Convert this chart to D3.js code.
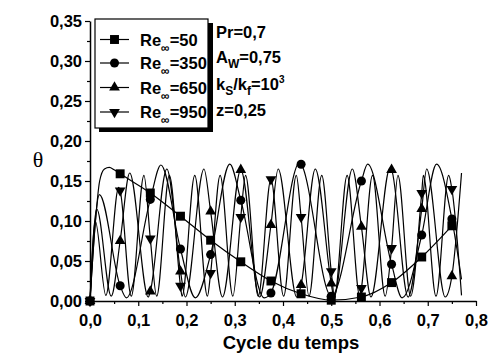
<!DOCTYPE html>
<html>
<head>
<meta charset="utf-8">
<script src="https://cdn.jsdelivr.net/npm/d3@7/dist/d3.min.js"></script>
<style>
  body { margin: 0; background: #fff; }
  svg text { font-family: "Liberation Sans", Arial, sans-serif; font-weight: bold; fill: #000; }
</style>
</head>
<body>
<div id="chart"></div>
<script>
// marker sampling times (cycle fraction)
const markerTimes = [0, 0.0625, 0.125, 0.1875, 0.25, 0.3125, 0.375, 0.4375, 0.5, 0.5625, 0.625, 0.6875, 0.75];

// theta read at the markers
const re50Marks  = [0, 0.159, 0.135, 0.106, 0.076, 0.049, 0.025, 0.009, 0.001, 0.005, 0.023, 0.055, 0.094];
const re350Marks = [0, 0.019, 0.127, 0.065, 0.058, 0.126, 0.010, 0.171, 0.006, 0.150, 0.046, 0.0825, 0.1025];
const re650Marks = [0, 0.075, 0.012, 0.037, 0.112, 0.164, 0.095, 0.020, 0.022, 0.093, 0.164, 0.115, 0.031];
const re950Marks = [0, 0.138, 0.078, 0.019, 0.035, 0.105, 0.152, 0.105, 0.037, 0.016, 0.066, 0.135, 0.140];

// extra curve points (peaks / troughs read between markers)
const re50Extra = [[0.01, 0.09], [0.02, 0.150], [0.03, 0.165], [0.04, 0.167], [0.05, 0.164]];
const re350Extra = [[0.0195, 0.133], [0.0755, 0.004], [0.147, 0.170], [0.2183, 0.004], [0.2897, 0.171],
  [0.3612, 0.004], [0.4345, 0.173], [0.5754, 0.171], [0.6469, 0.004], [0.7183, 0.171], [0.77, 0.027]];
const re650Extra = [[0.014, 0.115], [0.044, 0.006], [0.0823, 0.160], [0.1208, 0.005], [0.1592, 0.165],
  [0.1977, 0.005], [0.2362, 0.165], [0.2746, 0.005], [0.3515, 0.005], [0.39, 0.165], [0.4285, 0.005],
  [0.4669, 0.165], [0.5054, 0.005], [0.5438, 0.165], [0.5823, 0.005], [0.6218, 0.166], [0.6592, 0.005],
  [0.6977, 0.165], [0.7362, 0.005], [0.77, 0.160]];
const re950Extra = [[0.011, 0.100], [0.0329, 0.007], [0.0595, 0.142], [0.0855, 0.006], [0.1118, 0.157],
  [0.1382, 0.006], [0.1645, 0.157], [0.1908, 0.006], [0.2171, 0.157], [0.2434, 0.006], [0.2697, 0.157],
  [0.2961, 0.006], [0.3224, 0.157], [0.3487, 0.006], [0.4013, 0.006], [0.4276, 0.157], [0.4539, 0.006],
  [0.4803, 0.157], [0.5066, 0.006], [0.5329, 0.157], [0.5592, 0.006], [0.5855, 0.157], [0.6118, 0.006],
  [0.6382, 0.157], [0.6645, 0.006], [0.6908, 0.157], [0.7171, 0.006], [0.7434, 0.157], [0.77, 0.007]];

const reLabels = ["50", "350", "650", "950"];
const xTicks = [0, 0.1, 0.2, 0.3, 0.4, 0.5, 0.6, 0.7, 0.8];
const yTicks = [0, 0.05, 0.10, 0.15, 0.20, 0.25, 0.30, 0.35];

const width = 488, height = 354;
const x = d3.scaleLinear().domain([0, 0.8]).range([90, 476]);
const y = d3.scaleLinear().domain([0, 0.35]).range([301, 21]);

const svg = d3.select("#chart").append("svg")
  .attr("width", width).attr("height", height);

const commaX = d => d3.format(".1f")(d).replace(".", ",");
const commaY = d => d3.format(".2f")(d).replace(".", ",");

// minor ticks
const xMinor = d3.range(0.05, 0.8, 0.1);
const yMinor = d3.range(0.025, 0.35, 0.05);

svg.append("g").attr("transform", "translate(0,301)")
  .call(d3.axisBottom(x).tickValues(xMinor).tickSize(3).tickSizeOuter(0).tickFormat(""))
  .call(g => g.select(".domain").remove());
svg.append("g").attr("transform", "translate(90,0)")
  .call(d3.axisLeft(y).tickValues(yMinor).tickSize(3).tickSizeOuter(0).tickFormat(""))
  .call(g => g.select(".domain").remove());

svg.append("g").attr("transform", "translate(0,301)")
  .call(d3.axisBottom(x).tickValues(xTicks).tickSize(5).tickSizeOuter(0).tickPadding(8).tickFormat(commaX));
svg.append("g").attr("transform", "translate(90,0)")
  .call(d3.axisLeft(y).tickValues(yTicks).tickSize(5).tickSizeOuter(0).tickPadding(3).tickFormat(commaY));

svg.selectAll(".tick line").attr("stroke", "#000").attr("stroke-width", 1.2);
svg.selectAll(".domain").attr("stroke", "#000").attr("stroke-width", 1.5);
svg.selectAll(".tick text").style("font-size", "16.5px")
  .style("font-family", "'Liberation Sans', Arial, sans-serif").style("font-weight", "bold");

svg.append("text").attr("x", 291).attr("y", 349).attr("text-anchor", "middle")
  .style("font-size", "18.5px").text("Cycle du temps");
svg.append("text").attr("x", 38).attr("y", 167).attr("text-anchor", "middle")
  .style("font-family", "'Liberation Serif', 'Times New Roman', serif").style("font-weight", "normal")
  .style("font-size", "22px").text("θ");

// series
function build(extra, marks) {
  const pts = extra.concat(markerTimes.map((t, i) => [t, marks[i]]));
  pts.sort((a, b) => a[0] - b[0]);
  return pts;
}
const series = [
  { label: reLabels[0], sym: d3.symbolSquare, size: 80, rot: 0, pts: build(re50Extra, re50Marks), marks: re50Marks },
  { label: reLabels[1], sym: d3.symbolCircle, size: 64, rot: 0, pts: build(re350Extra, re350Marks), marks: re350Marks },
  { label: reLabels[2], sym: d3.symbolTriangle, size: 50, rot: 0, pts: build(re650Extra, re650Marks), marks: re650Marks },
  { label: reLabels[3], sym: d3.symbolTriangle, size: 50, rot: 180, pts: build(re950Extra, re950Marks), marks: re950Marks }
];

const line = d3.line().x(d => x(d[0])).y(d => y(d[1])).curve(d3.curveMonotoneX);

svg.append("g").selectAll("path").data(series).enter().append("path")
  .attr("d", d => line(d.pts))
  .attr("fill", "none").attr("stroke", "#000").attr("stroke-width", 1.2);

series.forEach(s => {
  svg.append("g").selectAll("path").data(s.marks).enter().append("path")
    .attr("d", d3.symbol().type(s.sym).size(s.size))
    .attr("transform", (d, i) => `translate(${x(markerTimes[i])},${y(d)}) rotate(${s.rot})`)
    .attr("fill", "#000");
});

// legend
const lg = svg.append("g");
lg.append("rect").attr("x", 95).attr("y", 19).attr("width", 113).attr("height", 109)
  .attr("fill", "#fff").attr("stroke", "#000").attr("stroke-width", 1.2);
const rowY = [39.5, 63, 87.5, 112];
series.forEach((s, i) => {
  lg.append("line").attr("x1", 100).attr("x2", 129).attr("y1", rowY[i]).attr("y2", rowY[i])
    .attr("stroke", "#000").attr("stroke-width", 1.2);
  lg.append("path").attr("d", d3.symbol().type(s.sym).size(s.size))
    .attr("transform", `translate(114.5,${rowY[i]}) rotate(${s.rot})`).attr("fill", "#000");
  const t = lg.append("text").attr("x", 140).attr("y", rowY[i] + 6).style("font-size", "16.5px");
  t.append("tspan").text("Re");
  t.append("tspan").attr("dy", 6).style("font-size", "12px").text("∞");
  t.append("tspan").attr("dy", -6).text("=" + s.label);
});
// shadow bars of the legend frame
lg.append("rect").attr("x", 208).attr("y", 23).attr("width", 5).attr("height", 109).attr("fill", "#000");
lg.append("rect").attr("x", 99).attr("y", 128).attr("width", 114).attr("height", 4).attr("fill", "#000");

// parameters
const pg = svg.append("g");
pg.append("text").attr("x", 216).attr("y", 38).style("font-size", "16.5px").text("Pr=0,7");
const ta = pg.append("text").attr("x", 216).attr("y", 63).style("font-size", "16.5px");
ta.append("tspan").text("A");
ta.append("tspan").attr("dy", 5).style("font-size", "12px").text("W");
ta.append("tspan").attr("dy", -5).text("=0,75");
const tk = pg.append("text").attr("x", 216).attr("y", 90).style("font-size", "16.5px");
tk.append("tspan").text("k");
tk.append("tspan").attr("dy", 5).style("font-size", "12px").text("S");
tk.append("tspan").attr("dy", -5).text("/k");
tk.append("tspan").attr("dy", 5).style("font-size", "12px").text("f");
tk.append("tspan").attr("dy", -5).text("=10");
tk.append("tspan").attr("dy", -7).style("font-size", "10px").text("3");
pg.append("text").attr("x", 216).attr("y", 116).style("font-size", "16.5px").text("z=0,25");
</script>
</body>
</html>
